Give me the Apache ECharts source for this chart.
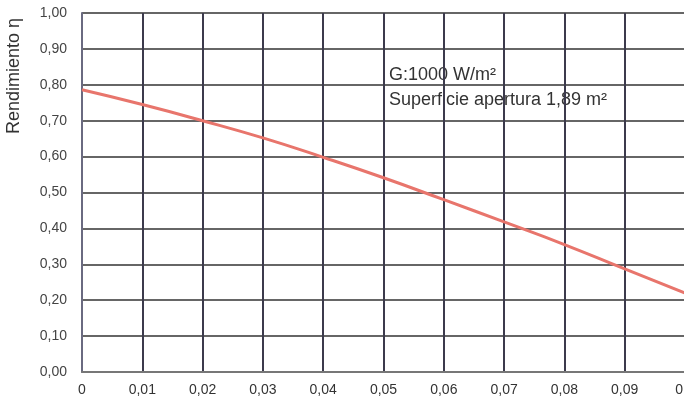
<!DOCTYPE html>
<html>
<head>
<meta charset="utf-8">
<script src="https://cdn.jsdelivr.net/npm/echarts@6/dist/echarts.min.js"></script>
<style>
html,body{margin:0;padding:0;background:#fff;}
#chart{width:684px;height:403px;}
</style>
</head>
<body>
<div id="chart"></div>
<script>
var xValues = [0, 0.01, 0.02, 0.03, 0.04, 0.05, 0.06, 0.07, 0.08, 0.09, 0.10];
var eta = [0.786, 0.745, 0.700, 0.652, 0.598, 0.541, 0.480, 0.418, 0.355, 0.287, 0.220];
var yAxisTitle = 'Rendimiento η';
var noteLines = ['G:1000 W/m²', 'Superficie apertura 1,89 m²'];

var chart = echarts.init(document.getElementById('chart'));
var data = xValues.map(function (x, i) { return [x, eta[i]]; });
function fmt(v, d) {
  return parseFloat(v.toFixed(d)).toString().replace('.', ',');
}
chart.setOption({
  animation: false,
  backgroundColor: '#fff',
  grid: { left: 82, top: 13, width: 603, height: 359, containLabel: false, outerBoundsMode: 'none' },
  xAxis: {
    type: 'value', min: 0, max: 0.1, interval: 0.01,
    axisLine: { show: true, lineStyle: { color: '#777', width: 2 } },
    axisTick: { show: false },
    axisLabel: {
      color: '#333', fontSize: 14, fontFamily: 'Liberation Sans, Arial', margin: 11,
      formatter: function (v) { return fmt(v, 2); }
    },
    splitLine: { show: true, lineStyle: { color: '#3c3a4c', width: 2 } }
  },
  yAxis: {
    type: 'value', min: 0, max: 1, interval: 0.1,
    axisLine: { show: true, lineStyle: { color: '#6a6a80', width: 2 } },
    axisTick: { show: false },
    axisLabel: {
      color: '#444', fontSize: 14, fontFamily: 'Liberation Sans, Arial', margin: 15,
      formatter: function (v) { return v.toFixed(2).replace('.', ','); }
    },
    splitLine: { show: true, lineStyle: { color: '#666', width: 2 } }
  },
  series: [{
    type: 'line', data: data, smooth: true, showSymbol: false,
    lineStyle: { color: '#e8756c', width: 3 }
  }],
  graphic: [
    {
      type: 'text',
      rotation: Math.PI / 2,
      x: 5, y: 134,
      style: { text: yAxisTitle, fill: '#333', font: '18px Liberation Sans, Arial', textVerticalAlign: 'top' }
    },
    {
      type: 'text', x: 389, y: 75,
      style: { text: noteLines[0], fill: '#333', font: '18px Liberation Sans, Arial', textVerticalAlign: 'middle' }
    },
    {
      type: 'text', x: 389, y: 100,
      style: { text: noteLines[1], fill: '#333', font: '18px Liberation Sans, Arial', textVerticalAlign: 'middle' }
    }
  ]
});
</script>
</body>
</html>
